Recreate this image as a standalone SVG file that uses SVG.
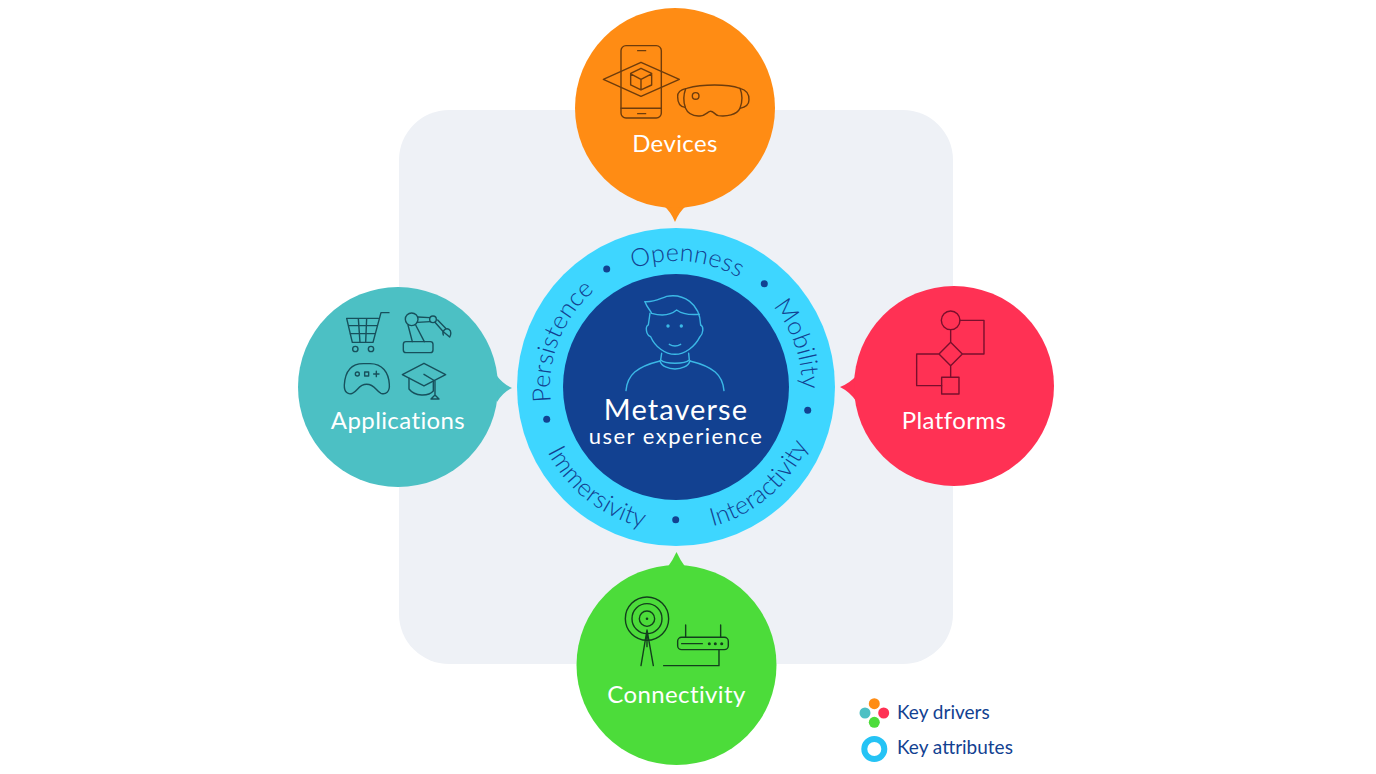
<svg xmlns="http://www.w3.org/2000/svg" width="1376" height="774" viewBox="0 0 1376 774">
<style>
text{font-family:"Lato","Noto Sans","Liberation Sans",sans-serif}
.lbl{font-size:24px;fill:#fff;text-anchor:middle;letter-spacing:.4px}
.ring{font-size:25px;fill:#124191;text-anchor:middle;font-weight:300;letter-spacing:.2px}
.leg{font-size:19px;fill:#124191}
.ic{fill:none;stroke-width:4.2;stroke-linejoin:round;stroke-linecap:round}
.dot{fill:#124191}
</style>
<defs>
<path id="arcTop" d="M676 513A126 126 0 1 1 676 261A126 126 0 1 1 676 513"/>
<path id="arcBot" d="M676 243A144 144 0 0 0 676 531A144 144 0 0 0 676 243"/>
</defs>
<rect id="backdrop" x="399" y="110" width="554" height="554" rx="50" fill="#eef1f6"/>
<g id="connectors">
<path d="M664 206Q671 212 675 222Q679 212 686 206Z" fill="#ff8c14"/>
<path d="M497 376Q503 384 512 388Q503 392 497 402Z" fill="#4cc0c4"/>
<path d="M856 376Q850 383 840 387Q850 392 856 401Z" fill="#ff3154"/>
<path d="M667 568Q673 560 676.500 552Q680 560 686 568Z" fill="#4cdc3a"/>
</g>
<g id="node-devices">
<circle cx="675" cy="108" r="100" fill="#ff8c14"/>
<g class="ic" stroke="#6e3c0c" transform="translate(570 0) scale(.3333)">
<rect x="153" y="137" width="121" height="217" rx="15"/>
<path d="M203 152H227M153 325H274M203 341H227"/>
<path d="M100 238L213 187L328 238L213 289Z"/>
<path d="M213 205L245 220V255L213 270L182 255V220ZM182 222L213 238L245 222M213 238V270"/>
<path d="M323 290C322 275 335 268 350 265C400 252 470 252 510 265C530 270 538 280 537 300C537 315 525 322 510 325C500 345 470 350 445 347C435 345 430 332 420 334C412 336 405 348 390 348C365 350 352 338 345 322C330 320 323 310 323 290Z"/>
<path d="M347 266C340 285 340 305 346 322M510 265C518 285 518 305 510 325"/>
<circle cx="377" cy="288" r="10"/>
</g>
<text class="lbl" x="675" y="152">Devices</text>
</g>
<g id="node-applications">
<circle cx="398" cy="387" r="100" fill="#4cc0c4"/>
<g class="ic" stroke="#17505c" transform="translate(295 285) scale(.3333)">
<path d="M282 83H258L234 172H172L155 100H250M160 122H245M165 146H239M190 100L195 172M215 100L212 172"/>
<circle cx="181" cy="192" r="8"/><circle cx="228" cy="192" r="8"/>
<rect x="325" y="170" width="89" height="33" rx="8"/>
<circle cx="350" cy="103" r="19"/>
<path d="M339 120L352 170M362 120L388 170M368 96L404 98M367 112L406 110"/>
<circle cx="414" cy="103" r="10"/>
<path d="M420 112L445 140M428 105L452 130"/>
<path d="M445 150C440 138 452 128 462 133C470 138 468 150 464 156M445 140L464 156"/>
<path d="M205 236C165 236 150 265 148 300C147 322 160 330 172 325C190 318 190 298 215 298C240 298 242 318 258 325C272 330 285 320 283 298C281 262 262 236 225 236Z"/>
<circle cx="187" cy="267" r="6"/><rect x="209" y="261" width="12" height="12"/>
<path d="M236 267H252M244 259V275"/>
<path d="M322 269L387 235L452 269L387 303Z"/>
<path d="M342 280V312C360 335 400 335 415 318V288"/>
<path d="M387 268L420 288V330M408 342L420 330L432 342Z"/>
</g>
<text class="lbl" x="398" y="429">Applications</text>
</g>
<g id="node-platforms">
<circle cx="954" cy="386" r="100" fill="#ff3154"/>
<g class="ic" stroke="#7a0f2c" transform="translate(835 285) scale(.3333)">
<circle cx="347" cy="106" r="28"/>
<path d="M375 106H447V207H382M347 134V172M347 172L382 207L347 242L312 207ZM312 207H245V302H320M347 242V277"/>
<rect x="320" y="277" width="52" height="50"/>
</g>
<text class="lbl" x="954" y="429">Platforms</text>
</g>
<g id="node-connectivity">
<circle cx="676.500" cy="665" r="100" fill="#4cdc3a"/>
<g class="ic" stroke="#123f1c" transform="translate(570 550) scale(.3333)">
<circle cx="231" cy="206" r="65"/><circle cx="231" cy="206" r="45"/><circle cx="231" cy="206" r="23"/>
<path d="M213 347L231 240L250 347M231 240V290"/>
<rect x="323" y="262" width="152" height="37" rx="12"/>
<path d="M347 225V262M452 225V262M335 281H397M447 299V347H281"/>
</g>
<g fill="#123f1c"><circle cx="647" cy="618.700" r="1.300"/><circle cx="709.300" cy="643.700" r="1.500"/><circle cx="715.300" cy="643.700" r="1.500"/><circle cx="721.700" cy="643.700" r="1.500"/></g>
<text class="lbl" x="676.500" y="703">Connectivity</text>
</g>
<g id="node-metaverse">
<circle cx="676" cy="387" r="159" fill="#3ed6ff"/>
<circle cx="676" cy="387" r="113" fill="#124191"/>
<g class="ic" stroke="#3bb8e6" transform="translate(510 225) scale(.3333)">
<path d="M405 230C430 232 440 225 470 214C520 205 570 235 572 300"/>
<path d="M405 230C410 245 420 255 425 265C450 272 480 272 500 255C520 270 545 270 568 268"/>
<path d="M420 265L415 300C405 305 408 330 422 335C435 365 465 388 495 388C525 388 555 365 570 335C580 325 582 305 572 300"/>
<path d="M455 385L452 405C465 418 525 418 538 405L536 385"/>
<path d="M450 408C460 440 530 440 540 408"/>
<path d="M348 497C352 450 380 425 450 408M540 408C610 425 638 450 642 497"/>
<path d="M478 358C488 364 502 364 512 358"/>
</g>
<circle cx="668" cy="326" r="1.700" fill="#3bb8e6"/><circle cx="681.300" cy="326" r="1.700" fill="#3bb8e6"/>
<text x="676" y="420" font-size="29" fill="#fff" text-anchor="middle" letter-spacing="1.100">Metaverse</text>
<text x="676" y="444" font-size="22" fill="#fff" text-anchor="middle" letter-spacing="1.500">user experience</text>
<text class="ring"><textPath href="#arcTop" startOffset="51.400%">Openness</textPath></text>
<text class="ring"><textPath href="#arcTop" startOffset="31%">Persistence</textPath></text>
<text class="ring"><textPath href="#arcTop" startOffset="69.600%">Mobility</textPath></text>
<text class="ring"><textPath href="#arcBot" startOffset="39.400%">Immersivity</textPath></text>
<text class="ring"><textPath href="#arcBot" startOffset="61.250%">Interactivity</textPath></text>
<circle class="dot" cx="606.700" cy="269" r="3.500"/>
<circle class="dot" cx="764.300" cy="283.700" r="3.500"/>
<circle class="dot" cx="807.700" cy="410.300" r="3.500"/>
<circle class="dot" cx="675.700" cy="519.700" r="3.500"/>
<circle class="dot" cx="546.700" cy="419.300" r="3.500"/>
</g>
<g id="legend">
<circle cx="874.300" cy="703.700" r="5.500" fill="#ff8c14"/>
<circle cx="865" cy="713" r="5.500" fill="#4cc0c4"/>
<circle cx="883.700" cy="713" r="5.500" fill="#ff3154"/>
<circle cx="874.300" cy="722.300" r="5.500" fill="#4cdc3a"/>
<circle cx="874.300" cy="749" r="10" fill="none" stroke="#25c3f5" stroke-width="6"/>
<text class="leg" x="897" y="719">Key drivers</text>
<text class="leg" x="897" y="754">Key attributes</text>
</g>
</svg>
